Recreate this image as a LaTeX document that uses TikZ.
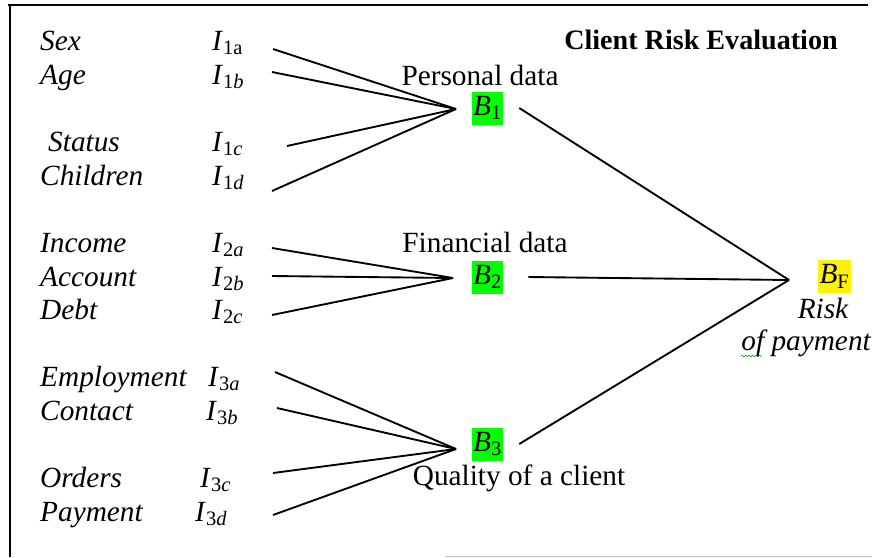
\documentclass[tikz,border=0pt]{standalone}
\usepackage{fontspec}
\setmainfont{Liberation Serif}
\usetikzlibrary{decorations.pathmorphing}

\begin{document}
\begin{tikzpicture}[x=0.03cm,y=-0.03cm,
    font=\fontsize{25}{30}\selectfont,
    item/.style={anchor=base west,inner sep=0pt,font=\fontsize{25}{30}\selectfont\itshape},
    ind/.style={anchor=base west,inner sep=0pt},
    grp/.style={anchor=base},
    blk/.style={fill=green,inner sep=1pt,minimum height=0.99cm},
    wire/.style={line width=1.6pt}]

    \useasboundingbox (0,0) rectangle (872,557);

    % Frame
    \draw [line width=2.5pt] (8,5) -- (868,5);
    \draw [line width=2.5pt] (10,4) -- (10,557);
    \draw [gray!50,line width=0.8pt] (445,556) -- (872,556);

    % Title
    \node [grp,font=\fontsize{24}{30}\selectfont\bfseries] (title) at (701,49) {Client Risk Evaluation};

    % Personal data inputs
    \node [item] (sex) at (40,50) {Sex};
    \node [item] (age) at (40,84) {Age};
    \node [item] (status) at (48,151) {Status};
    \node [item] (children) at (40,185) {Children};
    \node [ind] (i1a) at (212,50) {\textit{I}\textsubscript{1a}};
    \node [ind] (i1b) at (212,84) {\textit{I}\textsubscript{1\textit{b}}};
    \node [ind] (i1c) at (212,151) {\textit{I}\textsubscript{1\textit{c}}};
    \node [ind] (i1d) at (212,185) {\textit{I}\textsubscript{1\textit{d}}};

    % Financial data inputs
    \node [item] (income) at (40,252) {Income};
    \node [item] (account) at (40,286) {Account};
    \node [item] (debt) at (40,319) {Debt};
    \node [ind] (i2a) at (212,252) {\textit{I}\textsubscript{2\textit{a}}};
    \node [ind] (i2b) at (212,286) {\textit{I}\textsubscript{2\textit{b}}};
    \node [ind] (i2c) at (212,319) {\textit{I}\textsubscript{2\textit{c}}};

    % Quality inputs
    \node [item] (employ) at (40,386) {Employment};
    \node [item] (contact) at (40,420) {Contact};
    \node [item] (orders) at (40,487) {Orders};
    \node [item] (payment) at (40,521) {Payment};
    \node [ind] (i3a) at (208,386) {\textit{I}\textsubscript{3\textit{a}}};
    \node [ind] (i3b) at (206,420) {\textit{I}\textsubscript{3\textit{b}}};
    \node [ind] (i3c) at (200,487) {\textit{I}\textsubscript{3\textit{c}}};
    \node [ind] (i3d) at (195,521) {\textit{I}\textsubscript{3\textit{d}}};

    % Blocks
    \node [grp] (pers) at (480,85) {Personal data};
    \node [blk] (b1) at (487.5,108) {\textit{B}\textsubscript{1}};
    \node [grp] (fin) at (485,252) {Financial data};
    \node [blk] (b2) at (487.5,277) {\textit{B}\textsubscript{2}};
    \node [blk] (b3) at (487.5,444) {\textit{B}\textsubscript{3}};
    \node [grp] (qual) at (519,485) {Quality of a client};

    % Final block
    \node [blk,fill=yellow] (bf) at (834.5,276.5) {\textit{B}\textsubscript{F}};
    \node [item,anchor=base] (risk) at (823,318) {Risk};
    \node [item,anchor=base east] (ofpay) at (871,350) {of payment};
    \draw [green!60!black,line width=0.5pt,decorate,
        decoration={snake,amplitude=0.6pt,segment length=3pt}] (741,356) -- (762,356);

    % Junctions
    \coordinate (j1) at (456,109);
    \coordinate (j2) at (453,278);
    \coordinate (j3) at (456,449);
    \coordinate (jf) at (789,280);

    % Input wires
    \coordinate (s1a) at (273,49);
    \coordinate (s1b) at (272,72);
    \coordinate (s1c) at (287,146);
    \coordinate (s1d) at (272,191);
    \coordinate (s2a) at (272,248);
    \coordinate (s2b) at (272,276);
    \coordinate (s2c) at (272,315);
    \coordinate (s3a) at (275,372);
    \coordinate (s3b) at (277,408);
    \coordinate (s3c) at (273,473);
    \coordinate (s3d) at (273,515);
    \foreach \s in {s1a,s1b,s1c,s1d}
        \draw [wire] (\s) -- (j1);
    \foreach \s in {s2a,s2b,s2c}
        \draw [wire] (\s) -- (j2);
    \foreach \s in {s3a,s3b,s3c,s3d}
        \draw [wire] (\s) -- (j3);

    % Output wires
    \draw [wire] ([xshift=0.48cm]b1.east) -- (jf);
    \draw [wire] ([xshift=0.75cm]b2.east) -- (jf);
    \draw [wire] ([xshift=0.48cm]b3.east) -- (jf);

\end{tikzpicture}
\end{document}
